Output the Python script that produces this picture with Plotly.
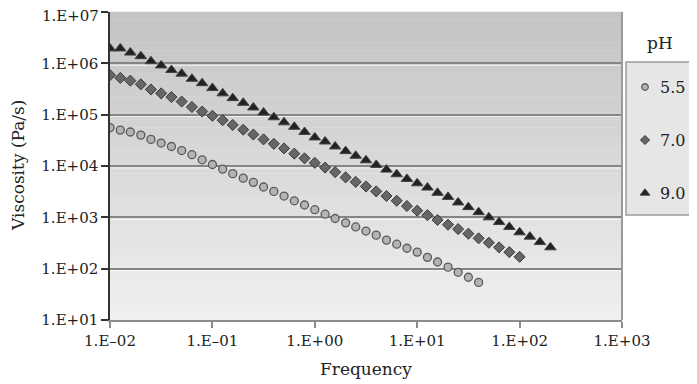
import plotly.graph_objects as go

# Frequency sweep (Hz)
frequency = [0.01, 0.0126, 0.0158, 0.02, 0.0251, 0.0316, 0.0398, 0.0501, 0.0631, 0.0794,
             0.1, 0.126, 0.158, 0.2, 0.251, 0.316, 0.398, 0.501, 0.631, 0.794,
             1, 1.26, 1.58, 2, 2.51, 3.16, 3.98, 5.01, 6.31, 7.94,
             10, 12.6, 15.8, 20, 25.1, 31.6, 39.8, 50.1, 63.1, 79.4,
             100, 126, 158, 200]

visc_ph55 = [5.6e4, 5.0e4, 4.6e4, 4.0e4, 3.3e4, 2.8e4, 2.4e4, 2.0e4, 1.66e4, 1.32e4,
             1.07e4, 8.7e3, 7.1e3, 5.8e3, 4.8e3, 3.9e3, 3.2e3, 2.6e3, 2.1e3, 1.74e3,
             1.41e3, 1.15e3, 9.5e2, 7.8e2, 6.5e2, 5.4e2, 4.5e2, 3.6e2, 3.0e2, 2.5e2,
             2.1e2, 1.66e2, 1.35e2, 1.07e2, 85, 68, 54]

visc_ph70 = [5.9e5, 5.2e5, 4.6e5, 3.9e5, 3.1e5, 2.6e5, 2.2e5, 1.8e5, 1.41e5, 1.15e5,
             9.5e4, 7.8e4, 6.3e4, 5.1e4, 4.1e4, 3.3e4, 2.7e4, 2.2e4, 1.74e4, 1.41e4,
             1.15e4, 9.3e3, 7.6e3, 6.0e3, 4.9e3, 4.0e3, 3.2e3, 2.6e3, 2.1e3, 1.66e3,
             1.35e3, 1.10e3, 8.9e2, 7.2e2, 5.9e2, 4.8e2, 3.9e2, 3.2e2, 2.6e2, 2.1e2,
             1.7e2]

visc_ph90 = [1.95e6, 1.95e6, 1.62e6, 1.38e6, 1.10e6, 9.1e5, 7.4e5, 6.3e5, 5.0e5, 4.1e5,
             3.3e5, 2.6e5, 2.1e5, 1.7e5, 1.38e5, 1.10e5, 8.9e4, 7.1e4, 5.8e4, 4.6e4,
             3.6e4, 3.0e4, 2.4e4, 1.95e4, 1.58e4, 1.29e4, 1.05e4, 8.5e3, 6.9e3, 5.6e3,
             4.6e3, 3.8e3, 3.0e3, 2.5e3, 1.95e3, 1.58e3, 1.26e3, 1.0e3, 8.1e2, 6.5e2,
             5.1e2, 4.2e2, 3.3e2, 2.6e2]

series_names = ["5.5", "7.0", "9.0"]
legend_title = "pH"

x_tickvals = [1e-2, 1e-1, 1e0, 1e1, 1e2, 1e3]
x_ticktext = ["1.E\u201302", "1.E\u201301", "1.E+00", "1.E+01", "1.E+02", "1.E+03"]
y_tickvals = [1e1, 1e2, 1e3, 1e4, 1e5, 1e6, 1e7]
y_ticktext = ["1.E+01", "1.E+02", "1.E+03", "1.E+04", "1.E+05", "1.E+06", "1.E+07"]

FONT = "DejaVu Serif"
OFF = 8                      # page body margin offset
W, H = 697 - OFF, 384 - OFF  # figure size so it ends at the window edge
PL, PR, PT, PB = 110, 622, 12, 320   # plot area in window pixels


def px(x):
    return (x - OFF) / W


def py(y):
    return 1 - (y - OFF) / H


styles = [
    dict(symbol="circle", size=8, color="#b4b4b4", line=dict(color="#5a5a5a", width=1.3)),
    dict(symbol="diamond", size=8.5, color="#666666", line=dict(color="#3a3a3a", width=1)),
    dict(symbol="triangle-up", size=10, color="#222222", line=dict(color="#444444", width=1)),
]
legend_sizes = [6.5, 7, 8.5]
data = [visc_ph55, visc_ph70, visc_ph90]

fig = go.Figure()
for name, vals, st in zip(series_names, data, styles):
    fig.add_trace(go.Scatter(x=frequency[:len(vals)], y=vals, mode="markers", name=name,
                             marker=st, showlegend=False, xaxis="x", yaxis="y"))

# legend markers on an auxiliary hidden axis pair
LX0, LX1, LY0, LY1 = 626, 697, 62, 215
legend_rows = [87, 140, 193]
for name, st, sz, row in zip(series_names, styles, legend_sizes, legend_rows):
    m = dict(st)
    m["size"] = sz
    fig.add_trace(go.Scatter(x=[(645 - LX0) / (LX1 - LX0)], y=[1 - (row - LY0) / (LY1 - LY0)],
                             mode="markers", marker=m, showlegend=False, hoverinfo="skip",
                             xaxis="x2", yaxis="y2"))

# background gradient of the plot area
shapes = []
N = 40
top = (195, 195, 195)
bot = (240, 240, 240)
for i in range(N):
    t = (i + 0.5) / N
    c = tuple(int(round(bot[k] + (top[k] - bot[k]) * t)) for k in range(3))
    shapes.append(dict(type="rect", xref="x domain", yref="y domain",
                       x0=0, x1=1, y0=i / N, y1=(i + 1) / N + 0.001,
                       fillcolor="rgb(%d,%d,%d)" % c, line=dict(width=0), layer="below"))
# faint light line just under each gridline
for k in range(1, 6):
    yy = k / 6 - 2 / (PB - PT)
    shapes.append(dict(type="line", xref="x domain", yref="y domain", x0=0, x1=1, y0=yy, y1=yy,
                       line=dict(color="rgba(255,255,255,0.7)", width=1), layer="below"))
# right border of plot area
shapes.append(dict(type="line", xref="x domain", yref="y domain", x0=1, x1=1, y0=0, y1=1,
                   line=dict(color="#9a9a9a", width=2)))
# legend box
shapes.append(dict(type="rect", xref="paper", yref="paper",
                   x0=px(LX0), x1=px(705), y0=py(LY1), y1=py(LY0),
                   fillcolor="#e6e6e6", line=dict(color="#9c9c9c", width=1.5), layer="below"))

annotations = [
    dict(text=legend_title, xref="paper", yref="paper", x=px(660), y=py(43),
         xanchor="center", yanchor="middle", showarrow=False,
         font=dict(family=FONT, size=17, color="#222222")),
    dict(text="Viscosity (Pa/s)", xref="paper", yref="paper", x=px(18), y=py((PT + PB) / 2),
         xanchor="center", yanchor="middle", textangle=-90, showarrow=False,
         font=dict(family=FONT, size=17, color="#222222")),
    dict(text="Frequency", xref="paper", yref="paper", x=px((PL + PR) / 2), y=py(369),
         xanchor="center", yanchor="middle", showarrow=False,
         font=dict(family=FONT, size=17, color="#222222")),
    # top tick label sits slightly below its tick so it stays inside the page
    dict(text=y_ticktext[-1], xref="paper", yref="paper", x=px(101), y=py(16),
         xanchor="right", yanchor="middle", showarrow=False,
         font=dict(family=FONT, size=15, color="#222222")),
]
for name, row in zip(series_names, legend_rows):
    annotations.append(dict(text=name, xref="paper", yref="paper", x=px(658), y=py(row),
                            xanchor="left", yanchor="middle", showarrow=False,
                            font=dict(family=FONT, size=16, color="#222222")))

fig.update_layout(
    width=W, height=H,
    margin=dict(l=0, r=0, t=0, b=0, pad=0, autoexpand=False),
    paper_bgcolor="white",
    plot_bgcolor="rgba(0,0,0,0)",
    font=dict(family=FONT, size=15, color="#222222"),
    shapes=shapes,
    annotations=annotations,
    showlegend=False,
    xaxis=dict(
        domain=[px(PL), px(PR)], anchor="y", automargin=False,
        type="log", range=[-2, 3],
        tickvals=x_tickvals, ticktext=x_ticktext,
        showgrid=False, zeroline=False,
        showline=True, linecolor="#8c8c8c", linewidth=2,
        ticks="outside", ticklen=6, tickcolor="#8c8c8c", tickwidth=1.5,
        tickfont=dict(family=FONT, size=15, color="#222222"),
    ),
    yaxis=dict(
        domain=[py(PB), py(PT)], anchor="x", automargin=False,
        type="log", range=[1, 7],
        tickvals=y_tickvals, ticktext=y_ticktext[:-1] + [""],
        showgrid=True, gridcolor="#858585", gridwidth=1.5,
        zeroline=False,
        showline=True, linecolor="#333333", linewidth=1.5,
        ticks="outside", ticklen=7, tickcolor="#333333", tickwidth=1.5,
        tickfont=dict(family=FONT, size=15, color="#222222"),
    ),
    xaxis2=dict(domain=[px(LX0), px(LX1)], anchor="y2", range=[0, 1], visible=False,
                fixedrange=True, automargin=False),
    yaxis2=dict(domain=[py(LY1), py(LY0)], anchor="x2", range=[0, 1], visible=False,
                fixedrange=True, automargin=False),
)

fig.write_html("out.html")
